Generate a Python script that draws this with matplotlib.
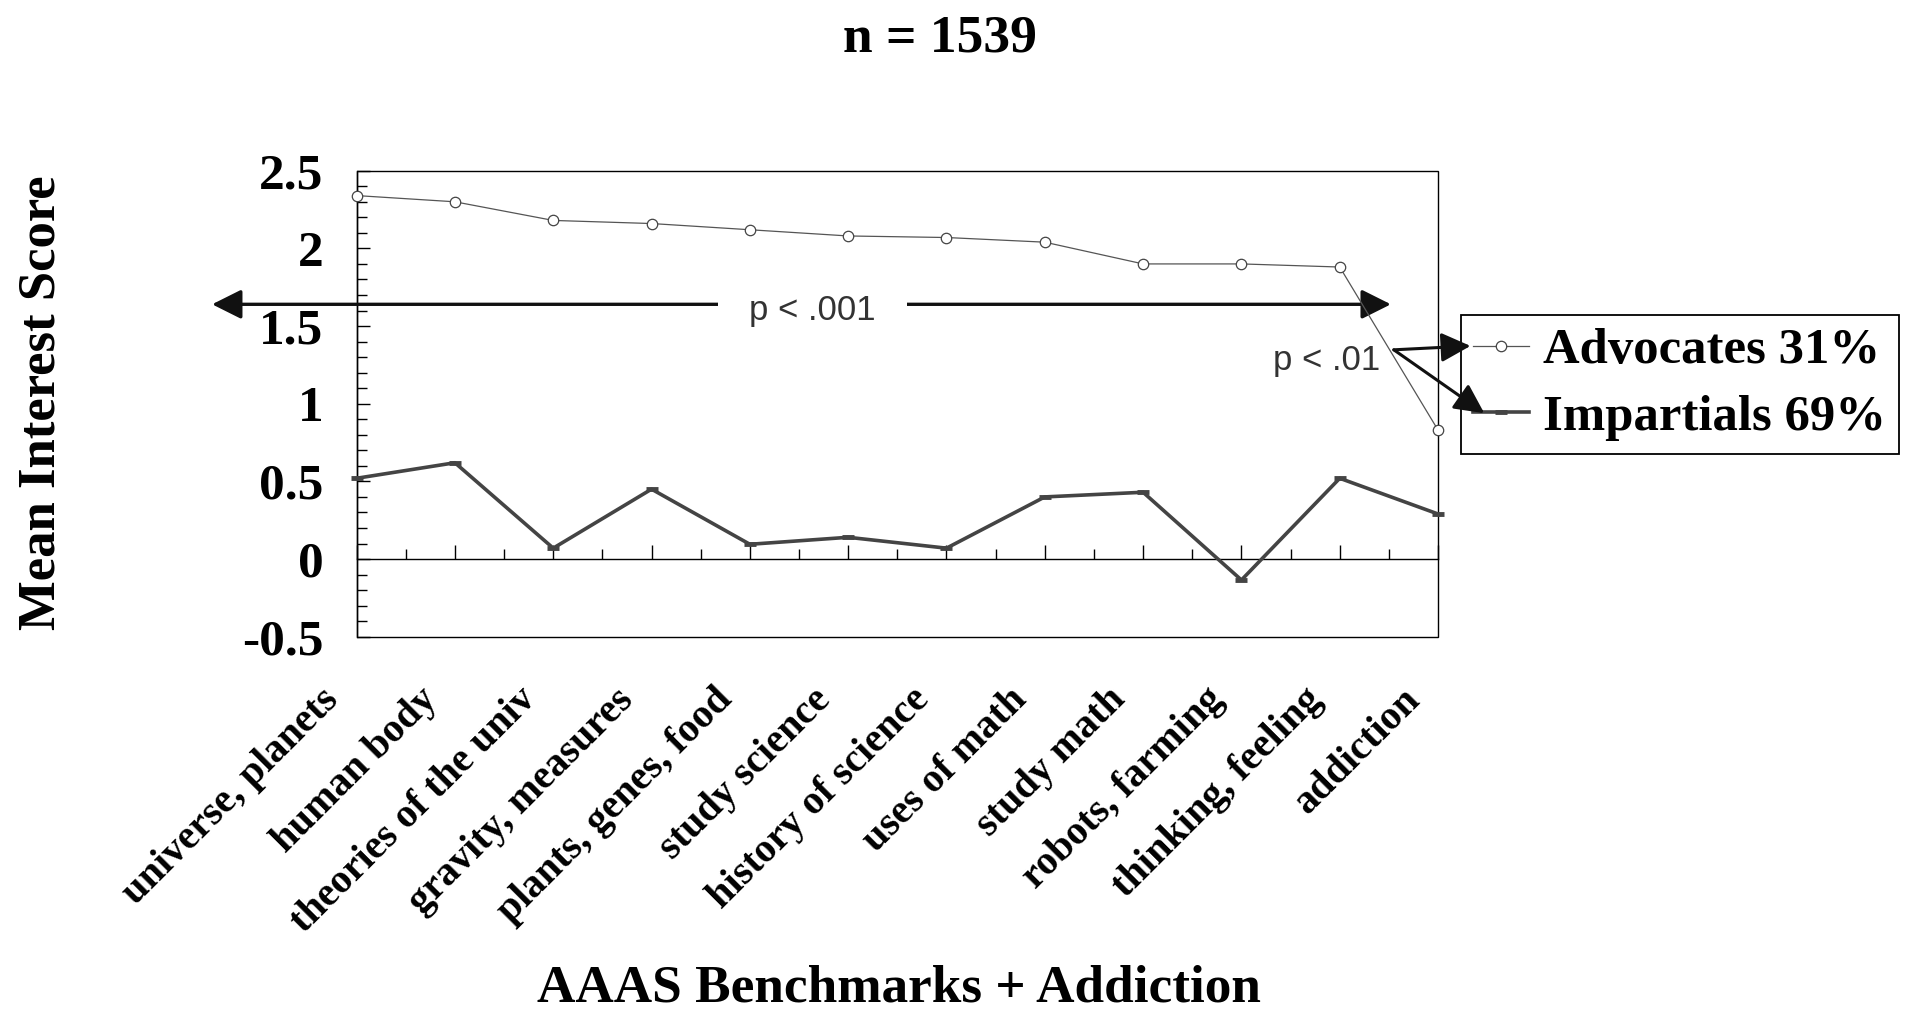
import matplotlib.pyplot as plt
import numpy as np
from matplotlib.ticker import MultipleLocator
from matplotlib.patches import Rectangle
from matplotlib.transforms import ScaledTranslation

# Categories along the x axis
categories = ["universe, planets", "human body", "theories of the univ",
              "gravity, measures", "plants, genes, food", "study science",
              "history of science", "uses of math", "study math",
              "robots, farming", "thinking, feeling", "addiction"]

# Mean interest scores
advocates = [2.34, 2.30, 2.18, 2.16, 2.12, 2.08, 2.07, 2.04, 1.90, 1.90, 1.88, 0.83]
impartials = [0.52, 0.62, 0.07, 0.45, 0.095, 0.14, 0.07, 0.40, 0.43, -0.135, 0.52, 0.29]

y_ticks = [-0.5, 0, 0.5, 1, 1.5, 2, 2.5]
y_tick_labels = ["-0.5", "0", "0.5", "1", "1.5", "2", "2.5"]

serif = "Liberation Serif"
sans = "Liberation Sans"

fig = plt.figure(figsize=(19.08, 10.15), dpi=100)
ax = fig.add_axes([0.1869, 0.3727, 0.5668, 0.4591])
x = np.arange(len(categories))

ax.plot(x, advocates, color="#555555", lw=0.9, marker="o", ms=7.5,
        mfc="white", mec="#444444", mew=0.9, label="Advocates 31%",
        clip_on=False, zorder=5)
ax.plot(x, impartials, color="#444444", lw=2.6, marker="_", ms=8, mew=3.5,
        label="Impartials 69%", clip_on=False, zorder=4.5)

ax.set_xlim(0, len(categories) - 1)
ax.set_ylim(-0.5, 2.5)

# frame + x axis crossing at zero
for s in ["top", "right"]:
    ax.spines[s].set_visible(False)
ax.spines["bottom"].set_position(("data", 0))
ax.spines["bottom"].set_linewidth(1.0)
ax.spines["left"].set_linewidth(1.0)
ax.add_patch(Rectangle((0, 0), 1, 1, transform=ax.transAxes, fill=False,
                       lw=1.0, ec="black", clip_on=False, zorder=2.5))

# ticks
ax.set_xticks(x)
ax.set_xticklabels(categories, rotation=45, ha="right", fontsize=29,
                   fontweight="bold", family=serif)
ax.set_xticks(x[:-1] + 0.5, minor=True)
ax.tick_params(axis="x", which="major", direction="in", length=10, width=1, pad=88)
ax.tick_params(axis="x", which="minor", direction="in", length=7, width=1)
ax.set_yticks(y_ticks)
ax.set_yticklabels(y_tick_labels, fontsize=37, fontweight="bold", family=serif)
ax.yaxis.set_minor_locator(MultipleLocator(0.1))
ax.tick_params(axis="y", which="major", direction="in", length=9, width=1, pad=24)
ax.tick_params(axis="y", which="minor", direction="in", length=7, width=1)

shift = ScaledTranslation(-0.10, 0, fig.dpi_scale_trans)
for lbl in ax.get_xticklabels():
    lbl.set_transform(lbl.get_transform() + shift)

# significance annotations
ax.annotate("", xy=(-1.47, 1.64), xytext=(10.52, 1.64),
            arrowprops=dict(arrowstyle="<|-|>,head_length=0.9,head_width=0.45",
                            mutation_scale=20, lw=2.4, color="#111111",
                            shrinkA=0, shrinkB=0),
            annotation_clip=False, zorder=4)
ax.text(4.64, 1.54, "p < .001", ha="center", va="baseline", fontsize=25,
        family=sans, color="#333333", zorder=6,
        bbox=dict(boxstyle="square,pad=0.9", fc="white", ec="none"))

ax.text(9.87, 1.218, "p < .01", ha="center", va="baseline", fontsize=25,
        family=sans, color="#333333", zorder=6)

leg = ax.legend(loc="center left", bbox_to_anchor=(0.7656, 0.6212),
                bbox_transform=fig.transFigure,
                prop=dict(family=serif, weight="bold", size=36.5),
                frameon=True, fancybox=False, edgecolor="black", framealpha=1,
                borderpad=0.25, labelspacing=0.4, handlelength=1.1,
                handletextpad=0.28, borderaxespad=0)
leg.get_frame().set_linewidth(1.3)
leg.set_zorder(5)

# small arrows pointing at the legend entries, drawn over the legend frame
for end in [(11.33, 1.372), (11.47, 0.939)]:
    ax.annotate("", xy=end, xytext=(10.55, 1.347),
                arrowprops=dict(arrowstyle="-|>,head_length=0.9,head_width=0.45",
                                mutation_scale=20, lw=2.2, color="#111111",
                                shrinkA=0, shrinkB=0),
                annotation_clip=False, zorder=7)

fig.text(0.4924, 0.949, "n = 1539", ha="center", va="baseline",
         fontsize=38.5, fontweight="bold", family=serif)
fig.text(0.4709, 0.013, "AAAS Benchmarks + Addiction", ha="center",
         va="baseline", fontsize=38.3, fontweight="bold", family=serif)
fig.text(55 / 1908, 0.603, "Mean Interest Score", rotation=90,
         rotation_mode="anchor", ha="center", va="baseline",
         fontsize=38, fontweight="bold", family=serif)

fig.savefig("out.png", dpi=100)
